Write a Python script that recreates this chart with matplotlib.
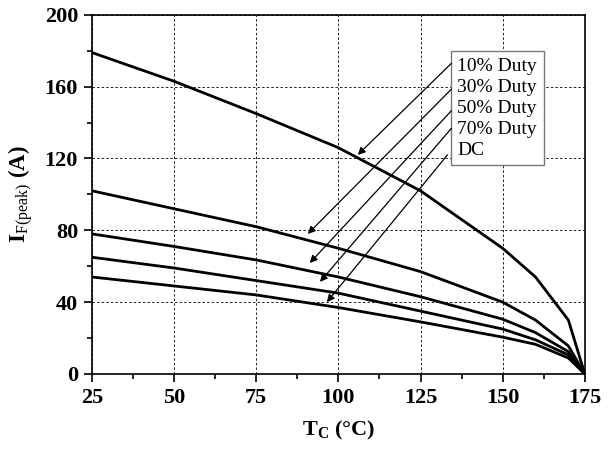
import matplotlib
matplotlib.use("Agg")
import matplotlib.pyplot as plt
from matplotlib.ticker import MultipleLocator

# ================= DATA =================
tc = [25, 50, 75, 100, 125, 150, 160, 170, 175]

duty_10 = [179, 163, 145, 126, 102, 70, 54, 30, 0]
duty_30 = [102, 92, 82, 70, 57, 40, 30, 15.6, 0]
duty_50 = [78, 71, 63.5, 54, 43, 30.5, 23, 12.4, 0]
duty_70 = [65, 59, 52, 45, 35, 25, 19, 10.6, 0]
duty_dc = [54, 49, 44, 37, 29, 20.5, 16.5, 8.9, 0]

labels = ["10% Duty", "30% Duty", "50% Duty", "70% Duty", "DC"]
# arrow tail (at label) and head (on curve), data coords
arrow_tail = [(134.4, 173), (134.4, 158.6), (134.4, 146.6), (134.4, 136.8), (133.2, 122)]
arrow_head = [(105.9, 122), (90.7, 78), (91.3, 61.8), (94.4, 51.3), (96.5, 40)]
# ========================================

plt.rcParams["font.family"] = ["Liberation Serif", "DejaVu Serif"]
plt.rcParams["mathtext.fontset"] = "custom"
plt.rcParams["mathtext.rm"] = "Liberation Serif"
plt.rcParams["mathtext.bf"] = "Liberation Serif:bold"

fig = plt.figure(figsize=(6.13, 4.5), dpi=100)
ax = fig.add_axes([0.150, 0.169, 0.804, 0.798])

for ys in [duty_10, duty_30, duty_50, duty_70, duty_dc]:
    ax.plot(tc, ys, color="black", lw=2.0, solid_joinstyle="miter")

ax.set_xlim(25, 175)
ax.set_ylim(0, 200)
ax.xaxis.set_major_locator(MultipleLocator(25))
ax.xaxis.set_minor_locator(MultipleLocator(12.5))
ax.yaxis.set_major_locator(MultipleLocator(40))
ax.yaxis.set_minor_locator(MultipleLocator(20))
ax.tick_params(which="both", direction="out", top=False, right=False, width=1.2)
ax.tick_params(which="major", length=6, labelsize=16, pad=4)
ax.tick_params(which="minor", length=3.5)
for lab in ax.get_xticklabels() + ax.get_yticklabels():
    lab.set_fontweight("bold")
for sp in ax.spines.values():
    sp.set_linewidth(1.2)

ax.grid(True, which="major", color="black", ls=(0, (3, 2.5)), lw=0.6)

ax.set_xlabel(r"$\mathbf{T}_{\mathbf{C}}$ (°C)", fontsize=16, fontweight="bold", labelpad=8)
ax.set_ylabel(r"$\mathbf{I}_{\mathrm{F(peak)}}$ (A)", fontsize=16.5, fontweight="bold", labelpad=6)

# label box with arrows
ax.text(136.2, 148.0, "\n".join(labels), fontsize=14, linespacing=1.3,
        va="center", ha="left",
        bbox=dict(boxstyle="square,pad=0.35", fc="white", ec="#777777", lw=1.0))
for (x0, y0), (x1, y1) in zip(arrow_tail, arrow_head):
    ax.annotate("", xy=(x1, y1), xytext=(x0, y0),
                arrowprops=dict(arrowstyle="-|>", color="black", lw=0.9,
                                mutation_scale=11, shrinkA=0, shrinkB=0))

fig.savefig("out.png", dpi=100)
